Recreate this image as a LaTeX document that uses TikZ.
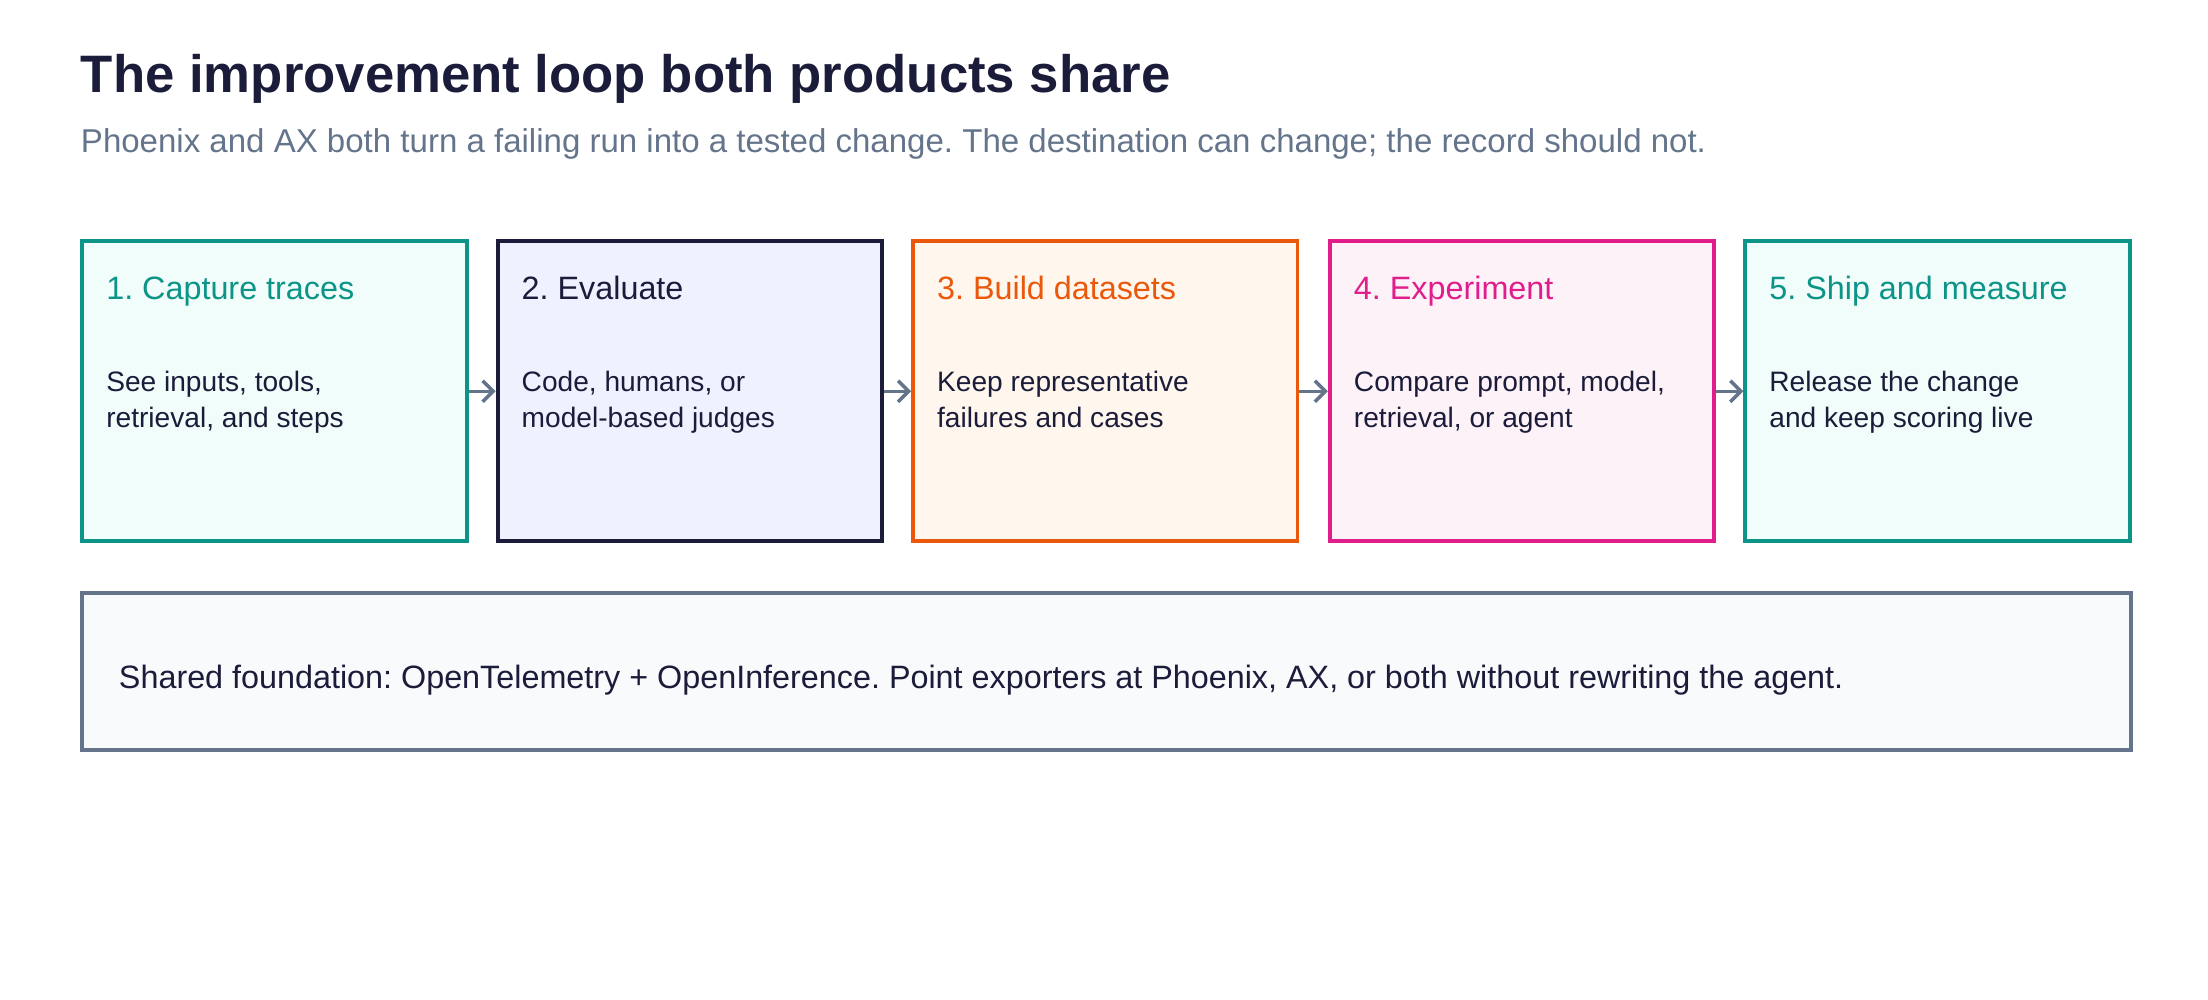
\documentclass[tikz,border=0pt]{standalone}
\usepackage{fontspec}
\setmainfont{Liberation Sans}
\frenchspacing
\usetikzlibrary{positioning,arrows.meta}
\definecolor{ink}{HTML}{1B1C3A}
\definecolor{slate}{HTML}{64748B}
\definecolor{teal}{HTML}{0D9488}
\definecolor{tealbg}{HTML}{F0FDFA}
\definecolor{navybg}{HTML}{EEF2FF}
\definecolor{orng}{HTML}{EA580C}
\definecolor{orngbg}{HTML}{FFF7ED}
\definecolor{pink}{HTML}{E11D8C}
\definecolor{pinkbg}{HTML}{FDF2F8}
\definecolor{greybg}{HTML}{F8FAFC}
\tikzset{
  step/.style={draw=#1, line width=1.1pt, minimum width=273*0.01408cm, minimum height=213*0.01408cm, inner sep=0pt},
  head/.style={anchor=base west, inner sep=0pt, font=\fontsize{9.2}{11}\selectfont},
  body/.style={anchor=north west, inner sep=0pt, align=left, text=ink, font=\fontsize{8}{10.4}\selectfont},
  link/.style={draw=slate, line width=1pt, -{Straight Barb[length=3pt,width=6pt]}}
}
\begin{document}
\begin{tikzpicture}[x=0.01408cm, y=-0.01408cm]
		\useasboundingbox (0,0) rectangle (1568,710);
		\node [anchor=base west, inner sep=0pt, text=ink, font=\fontsize{15}{17}\selectfont\bfseries] (title) at (57,66) {The improvement loop both products share};
		\node [anchor=base west, inner sep=0pt, text=slate, font=\fontsize{9.4}{11}\selectfont] (sub) at (57,108) {Phoenix and AX both turn a failing run into a tested change. The destination can change; the record should not.};
		% the five steps
		\node [step=teal, fill=tealbg, anchor=north west] (s1) at (57,170) {};
		\node [step=ink, fill=navybg, anchor=north west] (s2) at (352,170) {};
		\node [step=orng, fill=orngbg, anchor=north west] (s3) at (647,170) {};
		\node [step=pink, fill=pinkbg, anchor=north west] (s4) at (943,170) {};
		\node [step=teal, fill=tealbg, anchor=north west] (s5) at (1238,170) {};
		\node [head, text=teal] (h1) at ([xshift=18*0.01408cm, yshift=-43*0.01408cm]s1.north west) {1. Capture traces};
		\node [head, text=ink] (h2) at ([xshift=18*0.01408cm, yshift=-43*0.01408cm]s2.north west) {2. Evaluate};
		\node [head, text=orng] (h3) at ([xshift=18*0.01408cm, yshift=-43*0.01408cm]s3.north west) {3. Build datasets};
		\node [head, text=pink] (h4) at ([xshift=18*0.01408cm, yshift=-43*0.01408cm]s4.north west) {4. Experiment};
		\node [head, text=teal] (h5) at ([xshift=18*0.01408cm, yshift=-43*0.01408cm]s5.north west) {5. Ship and measure};
		\node [body] (b1) at ([yshift=-50*0.01408cm]h1.base west) {See inputs, tools,\\retrieval, and steps};
		\node [body] (b2) at ([yshift=-50*0.01408cm]h2.base west) {Code, humans, or\\model-based judges};
		\node [body] (b3) at ([yshift=-50*0.01408cm]h3.base west) {Keep representative\\failures and cases};
		\node [body] (b4) at ([yshift=-50*0.01408cm]h4.base west) {Compare prompt, model,\\retrieval, or agent};
		\node [body] (b5) at ([yshift=-50*0.01408cm]h5.base west) {Release the change\\and keep scoring live};
		\foreach \a/\b in {s1/s2,s2/s3,s3/s4,s4/s5}
			\draw [link] (\a.east) -- (\b.west);
		% foundation
		\node [draw=slate, fill=greybg, line width=1.1pt, minimum width=1455*0.01408cm, minimum height=111*0.01408cm, inner sep=0pt, anchor=north west] (base) at (57,420) {};
		\node [body, anchor=west, font=\fontsize{9.2}{11}\selectfont] (baset) at ([xshift=27*0.01408cm, yshift=-6*0.01408cm]base.west) {Shared foundation: OpenTelemetry + OpenInference. Point exporters at Phoenix, AX, or both without rewriting the agent.};
	\end{tikzpicture}
\end{document}
